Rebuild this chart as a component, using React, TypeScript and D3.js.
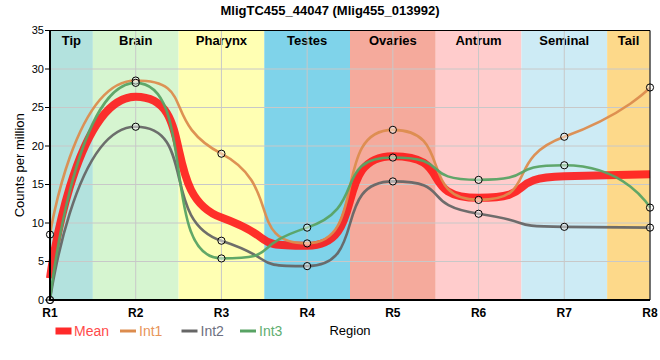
import React from "react";
import * as d3 from "d3";

const title = "MligTC455_44047 (Mlig455_013992)";
const regions = ["R1", "R2", "R3", "R4", "R5", "R6", "R7", "R8"];
const bandNames = ["Tip", "Brain", "Pharynx", "Testes", "Ovaries", "Antrum", "Seminal", "Tail"];
const bandColors = ["#b3e2de", "#d6f5d0", "#ffffb3", "#7fd3ea", "#f5aa9c", "#ffcccc", "#cdebf5", "#fdd98a"];
const int1 = [8.5, 28.5, 19.0, 7.35, 22.1, 13.0, 21.2, 27.6];
const int2 = [0, 22.5, 7.7, 4.4, 15.4, 11.2, 9.5, 9.4];
const int3 = [0, 28.2, 5.4, 9.4, 18.5, 15.6, 17.5, 12.0];
const mean = [2.83, 26.4, 10.7, 7.05, 18.67, 13.27, 16.07, 16.33];
const yTicks = [0, 5, 10, 15, 20, 25, 30, 35];

const W = 660, H = 360;
const left = 50, right = 650, top = 30.5, bottom = 300;
const FONT = "'Liberation Sans', Arial, sans-serif";

const x = d3.scaleLinear().domain([0, regions.length - 1]).range([left, right]);
const y = d3.scaleLinear().domain([0, 35]).range([bottom, top]);

function splinePath(vals: number[]): string {
  const pts = vals.map((v, i) => [x(i), y(v)]);
  const n = pts.length;
  const m = new Array(n).fill(0);
  for (let i = 1; i < n - 1; i++) {
    const s0 = (pts[i][1] - pts[i - 1][1]) / (pts[i][0] - pts[i - 1][0]);
    const s1 = (pts[i + 1][1] - pts[i][1]) / (pts[i + 1][0] - pts[i][0]);
    const p = (s0 + s1) / 2;
    m[i] = (Math.sign(s0) + Math.sign(s1)) * Math.min(Math.abs(s0), Math.abs(s1), 0.5 * Math.abs(p));
  }
  const K = 0.72, A = 0.4;
  const path = d3.path();
  path.moveTo(pts[0][0], pts[0][1]);
  for (let i = 0; i < n - 1; i++) {
    const [x0, y0] = pts[i];
    const [x1, y1] = pts[i + 1];
    const dx = x1 - x0;
    const c1 = i === 0 ? [x0, y0] : [x0 + K * dx, y0 + A * m[i] * dx];
    const c2 = i === n - 2 ? [x1, y1] : [x1 - K * dx, y1 - A * m[i + 1] * dx];
    path.bezierCurveTo(c1[0], c1[1], c2[0], c2[1], x1, y1);
  }
  return path.toString();
}

const series = [
  { name: "Int1", data: int1, color: "#dc8c4e", text: "#e8955a" },
  { name: "Int2", data: int2, color: "#666666", text: "#6d6f80" },
  { name: "Int3", data: int3, color: "#58a364", text: "#5fae72" },
];

export default function App() {
  const last = regions.length - 1;
  return (
    <svg width={W} height={H} style={{ position: "absolute", left: 0, top: 0, background: "#fff" }} fontFamily={FONT}>
      <text x={330} y={15} textAnchor="middle" fontSize={13} fontWeight="bold">{title}</text>
      {bandNames.map((b, i) => {
        const x0 = x(Math.max(0, i - 0.5));
        const x1 = x(Math.min(last, i + 0.5));
        return (
          <g key={b}>
            <rect x={x0} y={top} width={x1 - x0} height={bottom - top} fill={bandColors[i]} />
            <text x={(x0 + x1) / 2} y={45} textAnchor="middle" fontSize={13} fontWeight="bold">{b}</text>
          </g>
        );
      })}
      {yTicks.slice(1).map((t) => (
        <line key={"gy" + t} x1={left} x2={right} y1={y(t)} y2={y(t)} stroke="#c8c8c8" strokeWidth={1} />
      ))}
      {regions.map((r, i) => (
        <line key={"gx" + r} x1={x(i)} x2={x(i)} y1={top} y2={bottom} stroke="#c8c8c8" strokeWidth={1} />
      ))}
      <path d={splinePath(mean)} fill="none" stroke="#ff1a1a" strokeOpacity={0.9} strokeWidth={8} />
      {series.map((s) => (
        <path key={s.name} d={splinePath(s.data)} fill="none" stroke={s.color} strokeOpacity={0.95} strokeWidth={2.6} />
      ))}
      {series.map((s) =>
        s.data.map((v, i) => (
          <circle key={s.name + i} cx={x(i)} cy={y(v)} r={3.6} fill="#ffffff" fillOpacity={0.45} stroke="#000" strokeWidth={1} />
        ))
      )}
      <line x1={left} x2={right} y1={top} y2={top} stroke="#000" strokeWidth={1} />
      <line x1={right} x2={right} y1={top} y2={bottom} stroke="#000" strokeWidth={1} />
      <line x1={left} x2={left} y1={top - 0.5} y2={bottom + 1} stroke="#000" strokeWidth={2} />
      <line x1={left - 1} x2={right} y1={bottom} y2={bottom} stroke="#000" strokeWidth={2} />
      {yTicks.map((t) => (
        <g key={"ty" + t}>
          <line x1={left - 5} x2={left} y1={y(t)} y2={y(t)} stroke="#000" strokeWidth={1} />
          <text x={left - 6} y={y(t)} dy="0.35em" textAnchor="end" fontSize={11}>{t}</text>
        </g>
      ))}
      {regions.map((r, i) => (
        <text key={"tx" + r} x={x(i)} y={316.5} textAnchor="middle" fontSize={12} fontWeight="bold">{r}</text>
      ))}
      <text transform={`translate(24,${(top + bottom) / 2}) rotate(-90)`} textAnchor="middle" fontSize={13}>Counts per million</text>
      <text x={350} y={335} textAnchor="middle" fontSize={13}>Region</text>
      <rect x={55.5} y={327.5} width={16} height={7} fill="#ff2a2a" />
      <text x={74} y={336} fontSize={14} fill="#ff4a4a">Mean</text>
      {series.map((s, i) => {
        const lx = [120, 181.5, 240][i];
        return (
          <g key={"lg" + s.name}>
            <line x1={lx} x2={lx + 16} y1={331} y2={331} stroke={s.color} strokeWidth={3} />
            <text x={lx + 19} y={336} fontSize={14} fill={s.text}>{s.name}</text>
          </g>
        );
      })}
    </svg>
  );
}
